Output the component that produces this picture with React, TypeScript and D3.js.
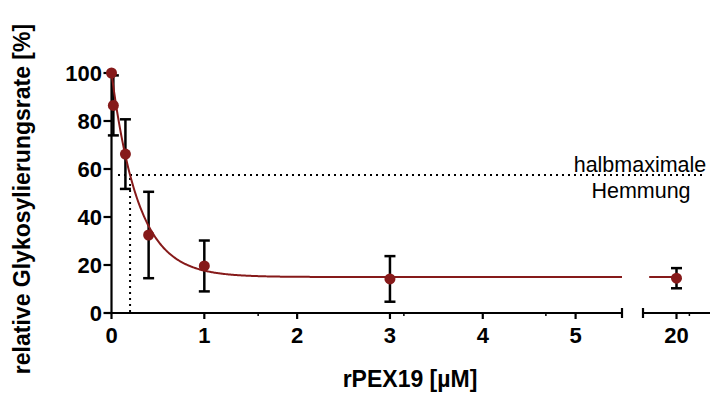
import React from "react";
import * as d3 from "d3";

// ---- data ----
const xValues = [0, 0.02, 0.15, 0.4, 1, 3, 20];
const yMeans = [100, 86.5, 66.2, 32.5, 19.6, 14.2, 14.5];
const yErrors = [0, 12.5, 14.5, 18, 10.6, 9.5, 4.2];

// fitted one-phase decay parameters
const fitTop = 100;
const fitBottom = 15;
const fitIC50 = 0.2;

const yTicks = [0, 20, 40, 60, 80, 100];
const xTicksSeg1 = [0, 1, 2, 3, 4, 5];
const xMinorSeg1 = [1.58, 3.15, 4.68];
const xTicksSeg2 = [20];
const xMinorSeg2 = [20.5];

const annotationLines = ["halbmaximale", "Hemmung"];
const xTitle = "rPEX19 [µM]";
const yTitle = "relative Glykosylierungsrate [%]";

const RED = "#861a1a";
const FONT = "'Liberation Sans', Arial, Helvetica, sans-serif";

export default function App() {
  const W = 712, H = 395;
  const y = d3.scaleLinear().domain([0, 100]).range([313, 73]);
  const x1 = d3.scaleLinear().domain([0, 5.5]).range([111.5, 622]);
  const x2 = d3.scaleLinear().domain([18.7, 21.3]).range([643, 710]);
  const xs = (v: number) => (v <= 5.5 ? x1(v) : x2(v));

  const k = Math.LN2 / fitIC50;
  const fit = (v: number) => fitBottom + (fitTop - fitBottom) * Math.exp(-k * v);
  const line1 = d3.line<number>().x((v) => x1(v)).y((v) => y(fit(v)));
  const line2 = d3.line<number>().x((v) => x2(v)).y((v) => y(fit(v)));
  const seg1Samples = d3.range(0, 5.5001, 0.01);
  const seg2Samples = [18.94, 20];

  const y0 = y(0);
  const halfY = y((fitTop + fitBottom) / 2);

  return (
    <svg width={W} height={H} style={{ position: "absolute", left: 0, top: 0, background: "#fff" }}
      fontFamily={FONT}>
      {/* dotted half-max lines */}
      <line x1={x1(0.07)} x2={x2(21.1)} y1={halfY} y2={halfY} stroke="#000" strokeWidth={2}
        strokeDasharray="2,4" />
      <line x1={x1(fitIC50)} x2={x1(fitIC50)} y1={halfY + 3} y2={y0} stroke="#000" strokeWidth={2}
        strokeDasharray="2,4" />
      <text x={640} y={171.5} textAnchor="middle" fontSize={21.5}>{annotationLines[0]}</text>
      <text x={641} y={198} textAnchor="middle" fontSize={21.5}>{annotationLines[1]}</text>

      {/* y axis */}
      <line x1={x1(0)} x2={x1(0)} y1={y(0) + 1} y2={y(100)} stroke="#000" strokeWidth={2.2} />
      {yTicks.map((t) => (
        <g key={"yt" + t}>
          <line x1={x1(0) - 8} x2={x1(0)} y1={y(t)} y2={y(t)} stroke="#000" strokeWidth={2.2} />
          <text x={102} y={y(t) + 8} textAnchor="end" fontSize={22} fontWeight="bold">{t}</text>
        </g>
      ))}

      {/* x axis segment 1 */}
      <line x1={x1(0) - 1} x2={x1(5.5)} y1={y0} y2={y0} stroke="#000" strokeWidth={2.2} />
      <line x1={x1(5.5)} x2={x1(5.5)} y1={y0 - 5} y2={y0 + 5} stroke="#000" strokeWidth={2.2} />
      {xTicksSeg1.map((t) => (
        <g key={"xt" + t}>
          <line x1={x1(t)} x2={x1(t)} y1={y0} y2={y0 + 6} stroke="#000" strokeWidth={2.2} />
          <text x={x1(t)} y={343} textAnchor="middle" fontSize={22} fontWeight="bold">{t}</text>
        </g>
      ))}
      {xMinorSeg1.map((t) => (
        <line key={"xm" + t} x1={x1(t)} x2={x1(t)} y1={y0} y2={y0 + 3} stroke="#000" strokeWidth={1.5} />
      ))}

      {/* x axis segment 2 */}
      <line x1={x2(18.7)} x2={x2(21.3)} y1={y0} y2={y0} stroke="#000" strokeWidth={2.2} />
      <line x1={x2(18.7)} x2={x2(18.7)} y1={y0 - 5} y2={y0 + 5} stroke="#000" strokeWidth={2.2} />
      {xTicksSeg2.map((t) => (
        <g key={"xt2" + t}>
          <line x1={x2(t)} x2={x2(t)} y1={y0} y2={y0 + 6} stroke="#000" strokeWidth={2.2} />
          <text x={x2(t)} y={343} textAnchor="middle" fontSize={22} fontWeight="bold">{t}</text>
        </g>
      ))}
      {xMinorSeg2.map((t) => (
        <line key={"xm2" + t} x1={x2(t)} x2={x2(t)} y1={y0} y2={y0 + 3} stroke="#000" strokeWidth={1.5} />
      ))}

      {/* error bars */}
      {xValues.map((v, i) =>
        yErrors[i] > 0 ? (
          <g key={"eb" + i} stroke="#000" strokeWidth={2.5}>
            <line x1={xs(v)} x2={xs(v)} y1={y(yMeans[i] + yErrors[i])} y2={y(yMeans[i] - yErrors[i])} />
            <line x1={xs(v) - 5.5} x2={xs(v) + 5.5} y1={y(yMeans[i] + yErrors[i])} y2={y(yMeans[i] + yErrors[i])} />
            <line x1={xs(v) - 5.5} x2={xs(v) + 5.5} y1={y(yMeans[i] - yErrors[i])} y2={y(yMeans[i] - yErrors[i])} />
          </g>
        ) : null
      )}

      {/* fitted curve */}
      <path d={line1(seg1Samples) || ""} fill="none" stroke={RED} strokeWidth={2} />
      <path d={line2(seg2Samples) || ""} fill="none" stroke={RED} strokeWidth={2} />

      {/* points */}
      {xValues.map((v, i) => (
        <circle key={"pt" + i} cx={xs(v)} cy={y(yMeans[i])} r={5.5} fill={RED} />
      ))}

      {/* titles */}
      <text x={410} y={387} textAnchor="middle" fontSize={23} fontWeight="bold">{xTitle}</text>
      <text transform={`translate(30,${199}) rotate(-90)`} textAnchor="middle" fontSize={23}
        fontWeight="bold">{yTitle}</text>
    </svg>
  );
}
